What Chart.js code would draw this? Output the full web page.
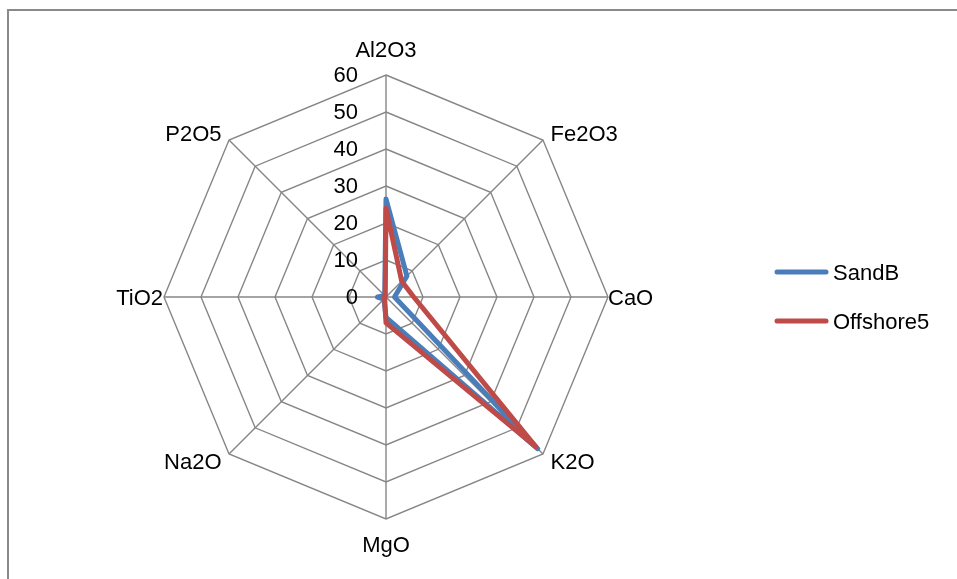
<!DOCTYPE html>
<html>
<head>
<meta charset="utf-8">
<script src="https://cdn.jsdelivr.net/npm/chart.js@4/dist/chart.umd.min.js"></script>
<style>
  html, body { margin: 0; padding: 0; background: #fff; overflow: hidden; }
  #frame {
    position: absolute; left: 7px; top: 9px; width: 1000px; height: 700px;
    border-top: 2px solid #8a8a8a; border-left: 2px solid #8a8a8a;
  }
  #canvas { position: absolute; left: 0; top: 0; }
</style>
</head>
<body>
<div id="frame"></div>
<canvas id="canvas" width="957" height="579"></canvas>
<script>
// oxides on the spokes, clockwise from the top
const categories = ['Al2O3', 'Fe2O3', 'CaO', 'K2O', 'MgO', 'Na2O', 'TiO2', 'P2O5'];
const sandB = [26.5, 8, 2.3, 58, 5.5, 0.8, 2.3, 0.5];
const offshore5 = [24, 6, 7.5, 57.3, 7, 0.5, 0.5, 0.3];
const tickValues = [0, 10, 20, 30, 40, 50, 60];

const FONT = '22px "Liberation Sans", Arial, sans-serif';
const gridColor = '#868686';

// draws tick numbers, spoke labels and the legend (Excel style placement)
const excelLabels = {
    id: 'excelLabels',
    afterDraw(chart) {
        const ctx = chart.ctx;
        const r = chart.scales.r;
        ctx.save();
        ctx.font = FONT;
        ctx.fillStyle = '#000';

        // tick numbers, right aligned left of the vertical spoke
        ctx.textAlign = 'right';
        ctx.textBaseline = 'middle';
        tickValues.forEach(v => {
            const y = r.yCenter - r.getDistanceFromCenterForValue(v);
            ctx.fillText(String(v), r.xCenter - 28, y + 1);
        });

        // spoke labels
        ctx.textBaseline = 'alphabetic';
        categories.forEach((label, i) => {
            const p = r.getPointPosition(i, r.drawingArea);
            const a = r.getIndexAngle(i);
            const sin = Math.sin(a), cos = Math.cos(a);
            let x = p.x, y = p.y;
            if (Math.abs(sin) < 0.01) {
                ctx.textAlign = 'center';
                y += cos > 0 ? -18 : 33;
            } else if (Math.abs(cos) < 0.01) {
                ctx.textAlign = sin > 0 ? 'left' : 'right';
                x += sin > 0 ? 0 : -1;
                y += 8;
            } else {
                ctx.textAlign = sin > 0 ? 'left' : 'right';
                x += sin > 0 ? 7.5 : -7.5;
                y += cos > 0 ? 1 : 15;
            }
            ctx.fillText(label, x, y);
        });

        // legend
        ctx.textAlign = 'left';
        chart.data.datasets.forEach((ds, i) => {
            const ly = 272 + i * 49;
            ctx.beginPath();
            ctx.strokeStyle = ds.borderColor;
            ctx.lineWidth = 5;
            ctx.lineCap = 'round';
            ctx.moveTo(777, ly);
            ctx.lineTo(826, ly);
            ctx.stroke();
            ctx.fillText(ds.label, 833, ly + 8);
        });
        ctx.restore();
    }
};

const ctx = document.getElementById('canvas').getContext('2d');
window.myChart = new Chart(ctx, {
    type: 'radar',
    data: {
        labels: categories,
        datasets: [
            {
                label: 'SandB',
                data: sandB,
                borderColor: '#4A7EBB',
                backgroundColor: '#4A7EBB',
                borderWidth: 5,
                borderJoinStyle: 'round',
                pointRadius: 0,
                fill: false,
                order: 1
            },
            {
                label: 'Offshore5',
                data: offshore5,
                borderColor: '#BE4B48',
                backgroundColor: '#BE4B48',
                borderWidth: 5,
                borderJoinStyle: 'round',
                pointRadius: 0,
                fill: false,
                order: 0
            }
        ]
    },
    options: {
        responsive: false,
        animation: false,
        devicePixelRatio: 1,
        layout: { padding: { left: 164, right: 349, top: 75, bottom: 60 } },
        plugins: {
            legend: { display: false },
            tooltip: { enabled: false }
        },
        scales: {
            r: {
                min: 0,
                max: 60,
                ticks: { stepSize: 10, display: false },
                pointLabels: { display: false },
                grid: { color: gridColor, lineWidth: 1.4 },
                angleLines: { color: gridColor, lineWidth: 1.4 }
            }
        }
    },
    plugins: [excelLabels]
});
</script>
</body>
</html>
